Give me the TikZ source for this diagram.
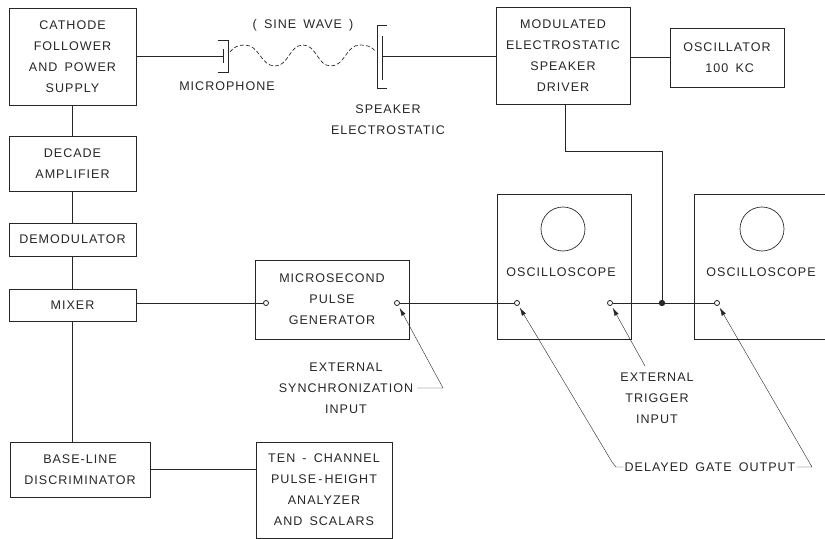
\documentclass[tikz,border=0pt]{standalone}
\usepackage{fontspec}
\usetikzlibrary{arrows.meta,positioning}
\newfontfamily\lettering[LetterSpace=8,WordSpace=1.6]{Liberation Sans}
\newcommand{\letterfont}{\lettering\fontsize{9.4}{15.8}\selectfont}
\definecolor{ink}{gray}{0.15}
\tikzset{
  box/.style={draw=ink,line width=0.65pt,inner sep=0pt,outer sep=0pt,align=center,font=\letterfont,text=ink},
  lbl/.style={inner sep=0pt,outer sep=1pt,align=center,font=\letterfont,text=ink},
  wire/.style={draw=ink,line width=0.65pt},
  leader/.style={draw=ink,line width=0.3pt,-{Latex[length=6pt,width=3.4pt]},shorten >=2.2pt},
  term/.style={circle,draw=ink,line width=0.6pt,fill=white,inner sep=0pt,minimum size=3.8pt,outer sep=0pt},
  dot/.style={circle,fill=ink,inner sep=0pt,minimum size=4.8pt}
}

\begin{document}
\begin{tikzpicture}[x=0.75pt,y=-0.75pt]
    \useasboundingbox (0,0) rectangle (825,539);
    % left column
    \node [box,minimum width=95.25pt,minimum height=72.75pt] (cathode) at (72.5,56.5) {CATHODE\\FOLLOWER\\AND POWER\\SUPPLY};
    \node [box,minimum width=95.25pt,minimum height=41.25pt] (decade) [below=23.25pt of cathode] {DECADE\\AMPLIFIER};
    \node [box,minimum width=95.25pt,minimum height=24.75pt] (demod) [below=24pt of decade] {DEMODULATOR};
    \node [box,minimum width=95.25pt,minimum height=24pt] (mixer) [below=24.75pt of demod] {MIXER};
    \node [box,minimum width=105pt,minimum height=41.25pt] (baseline) at (80,469.5) {BASE-LINE\\DISCRIMINATOR};
    \node [box,minimum width=102pt,minimum height=72pt] (tenchannel) at (324,490) {TEN - CHANNEL\\PULSE\,-\,HEIGHT\\ANALYZER\\AND SCALARS};
    % top row
    \node [box,minimum width=100.5pt,minimum height=72.75pt] (modulated) at (563,55.5) {MODULATED\\ELECTROSTATIC\\SPEAKER\\DRIVER};
    \node [box,minimum width=85.5pt,minimum height=44.25pt] (osc) at (727,57.5) {OSCILLATOR\\\hspace*{4pt}100 KC};
    % scopes and pulse generator
    \node [box,minimum width=115.5pt,minimum height=59.25pt] (pulse) at (332,299.5) {MICROSECOND\\PULSE\\GENERATOR};
    \node [box,minimum width=100.5pt,minimum height=108.75pt] (scopea) at (564,266.5) {};
    \node [inner sep=0pt,outer sep=0pt,minimum width=98.25pt,minimum height=108.75pt] (scopeb) at (759.5,266.5) {};
    \draw[wire] (scopeb.north east) -- (scopeb.north west) -- (scopeb.south west) -- (scopeb.south east);
    \node [draw=ink,line width=0.5pt,circle,minimum size=33pt,inner sep=0pt] (screena) at (563,229) {};
    \node [draw=ink,line width=0.5pt,circle,minimum size=33pt,inner sep=0pt] (screenb) at (762,229) {};
    \node [lbl] (scopealbl) at (561,272) {OSCILLOSCOPE};
    \node [lbl] (scopeblbl) at (761,272) {OSCILLOSCOPE};
    % terminals
    \node [term] (pulsein) at (266,303) {};
    \node [term] (pulseout) at (397,303) {};
    \node [term] (gatea) at (517,303) {};
    \node [term] (trig) at (610,303) {};
    \node [term] (gateb) at (717,303) {};
    \node [dot] (junction) at (662,303) {};
    % microphone and speaker
    \coordinate (micplate) at (223,56);
    \coordinate (spkplate) at (382,56);
    \draw[wire] (218,40) -- (228,40) -- (228,72) -- (218,72);
    \draw[wire] (223,49) -- (223,63);
    \draw[wire] (387,25) -- (377,25) -- (377,88) -- (387,88);
    \draw[wire] (382,36) -- (382,80);
    \draw[ink,line width=0.5pt,dash pattern=on 3pt off 1.6pt] (230,52) to[out=55,in=180] (245,45) to[out=0,in=180] (275,66) to[out=0,in=180] (303,45) to[out=0,in=180] (331,66) to[out=0,in=180] (360,45) to[out=0,in=125] (376,52);
    % labels
    \node [lbl] (sine) at (303,25) {( SINE WAVE )};
    \node [lbl] (miclbl) at (227,86) {MICROPHONE};
    \node [lbl] (spklbl) at (388,120) {SPEAKER\\ELECTROSTATIC};
    \node [lbl] (synclbl) at (346,388) {EXTERNAL\\SYNCHRONIZATION\\INPUT};
    \node [lbl] (triglbl) at (657,398) {EXTERNAL\\TRIGGER\\INPUT};
    \node [lbl] (delayed) at (710,467) {DELAYED GATE OUTPUT};
    % wires
    \draw[wire] (cathode.east |- micplate) -- (micplate);
    \draw[wire] (spkplate) -- (modulated.west |- spkplate);
    \draw[wire] (modulated.east |- osc.west) -- (osc.west);
    \draw[wire] (cathode) -- (decade);
    \draw[wire] (decade) -- (demod);
    \draw[wire] (demod) -- (mixer);
    \draw[wire] (mixer.south) -- (mixer.south |- baseline.north);
    \draw[wire] (baseline.east) -- (baseline.east -| tenchannel.west);
    \draw[wire] (mixer.east |- pulsein) -- (pulsein);
    \draw[wire] (pulseout) -- (gatea);
    \draw[wire] (trig) -- (gateb);
    \draw[wire] ([xshift=1.5pt]modulated.south) -- ++(0,47) -| (junction);
    % leaders
    \coordinate (synccorner) at (443,388);
    \coordinate (delaycornera) at (612,462);
    \coordinate (delaycornerb) at (812,467);
    \draw[leader] ([xshift=2pt]synclbl.east |- synccorner) -- (synccorner) -- (pulseout);
    \draw[leader] (delayed.west) -- (616,467) -- (delaycornera) -- (gatea);
    \draw[leader] (delayed.east) -- (delaycornerb) -- (gateb);
    \draw[leader] (645,366) -- (trig);
  \end{tikzpicture}
\end{document}
